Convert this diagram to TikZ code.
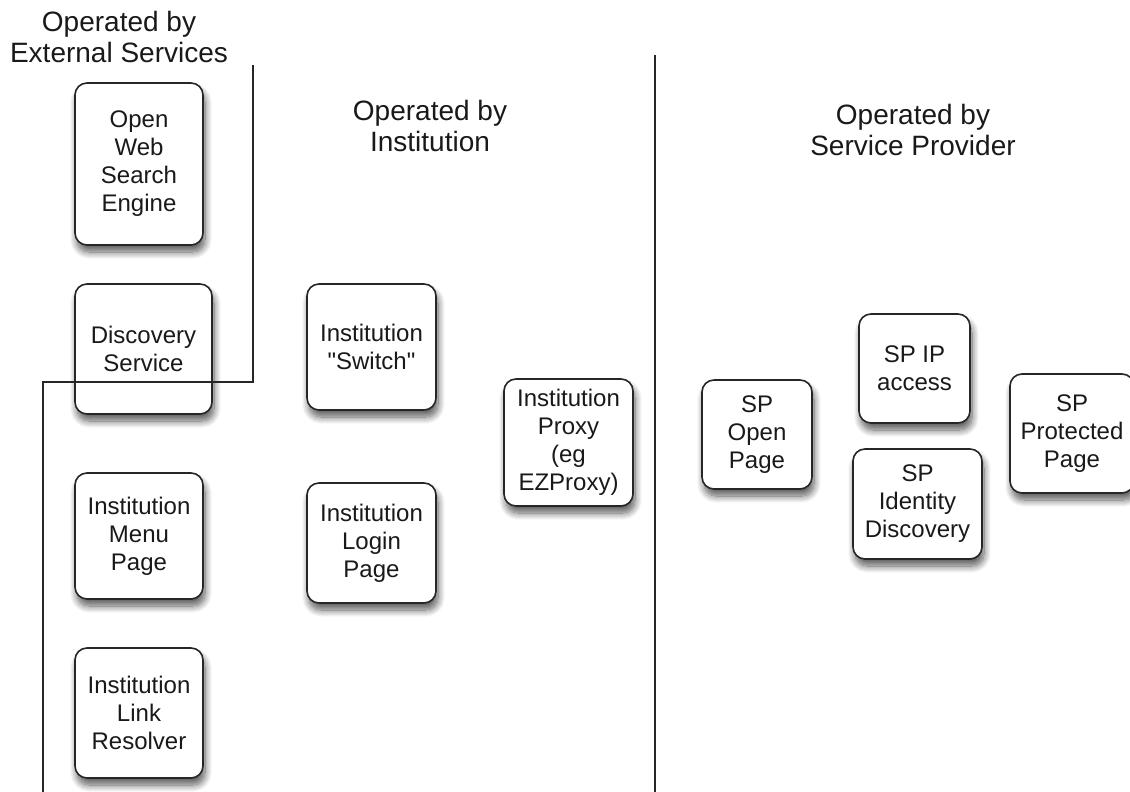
\documentclass[tikz,border=0pt]{standalone}
\usepackage{fontspec}
\setmainfont{Liberation Sans}[Ligatures=TeXOff]
\usetikzlibrary{shadows.blur}
\tikzset{
  box/.style={draw=black!85, line width=1.6pt, fill=white, rounded corners=12pt,
    align=center, inner sep=2pt, font=\fontsize{24}{28}\selectfont, text=black!90,
    blur shadow={shadow xshift=2pt, shadow yshift=-7pt, shadow blur radius=7pt, shadow opacity=65, shadow blur steps=10}},
  title/.style={align=center, font=\fontsize{28}{31}\selectfont, text=black!90},
  wire/.style={draw=black!85, line width=1.3pt}
}
\begin{document}
\begin{tikzpicture}[x=1pt,y=-1pt]
\useasboundingbox (0,0) rectangle (1130,792);
% titles
\node[title] (t1) at (119,37) {Operated by\\External Services};
\node[title] (t2) at (430,126) {Operated by\\Institution};
\node[title] (t3) at (913,130) {Operated by\\Service Provider};
% boxes
\node[box, minimum width=128pt, minimum height=162pt] (web) at (139,164) {Open\\Web\\Search\\Engine};
\node[box, minimum width=137pt, minimum height=130pt] (disc) at (143.5,349) {Discovery\\Service};
\node[box, minimum width=128pt, minimum height=126pt] (menu) at (139,536) {Institution\\Menu\\Page};
\node[box, minimum width=128pt, minimum height=130pt] (link) at (139,713) {Institution\\Link\\Resolver};
\node[box, minimum width=129pt, minimum height=126pt] (switch) at (371.5,347) {Institution\\"Switch"};
\node[box, minimum width=129pt, minimum height=120pt] (login) at (371.5,543) {Institution\\Login\\Page};
\node[box, minimum width=129pt, minimum height=127pt] (proxy) at (568.5,442.5) {Institution\\Proxy\\(eg\\EZProxy)};
\node[box, minimum width=110pt, minimum height=109pt] (spopen) at (757,434.5) {SP\\Open\\Page};
\node[box, minimum width=111pt, minimum height=109pt] (spip) at (914.5,368.5) {SP IP\\access};
\node[box, minimum width=129pt, minimum height=110pt] (spid) at (917.5,504) {SP\\Identity\\Discovery};
\node[box, minimum width=124pt, minimum height=119pt] (spprot) at (1072,433.5) {SP\\Protected\\Page};
% lines
\coordinate (l1) at (253,65);
\coordinate (l3) at (43,382);
\coordinate (l4) at (43,792);
\draw[wire] (l1) |- (l3) -- (l4);
\coordinate (d1) at (655,55);
\coordinate (d2) at (655,792);
\draw[wire] (d1) -- (d2);
\end{tikzpicture}
\end{document}
